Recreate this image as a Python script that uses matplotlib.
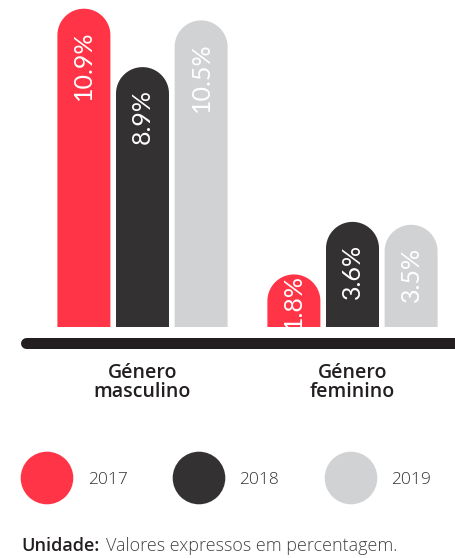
import numpy as np
import matplotlib
matplotlib.use("Agg")
import matplotlib.pyplot as plt
from matplotlib.patches import Polygon, Circle

# ---- data ----
categories = ["Género\nmasculino", "Género\nfeminino"]
years = ["2017", "2018", "2019"]
values = {
    "2017": [10.9, 1.8],
    "2018": [8.9, 3.6],
    "2019": [10.5, 3.5],
}
colors = {"2017": "#FF3446", "2018": "#333132", "2019": "#D1D2D4"}
footnote_bold = "Unidade:"
footnote_rest = "Valores expressos em percentagem."

W, H, DPI = 456, 558, 100
fig = plt.figure(figsize=(W / DPI, H / DPI), dpi=DPI)

# overlay in pixel units for legend and footnote
lax = fig.add_axes([0, 0, 1, 1])
lax.set_xlim(0, W)
lax.set_ylim(H, 0)
lax.axis("off")
lax.patch.set_alpha(0)

# bar axes: top of figure down to y=360 px, bar base at y=327 px
base_px, bottom_px = 327, 360
k = 29.2            # pixels per percentage point
px_x = 210.0        # pixels between group centres
ax = fig.add_axes([0, (H - bottom_px) / H, 1, bottom_px / H])
ax.set_ylim(-(bottom_px - base_px) / k, base_px / k)
ax.set_xlim(-142.5 / px_x, (W - 142.5) / px_x)
ax.patch.set_alpha(0)
for s in ax.spines.values():
    s.set_visible(False)
ax.set_yticks([])

bar_w = 53 / px_x
offsets = np.array([-1, 0, 1]) * 58.6 / px_x
rx = bar_w / 2
ry = 26.5 / k

renderer = fig.canvas.get_renderer()
x = np.arange(len(categories))
for i, yr in enumerate(years):
    for j, v in enumerate(values[yr]):
        xc = x[j] + offsets[i]
        th = np.linspace(0, np.pi, 60)
        cap = np.column_stack([xc + rx * np.cos(th), (v - ry) + ry * np.sin(th)])
        pts = np.vstack([[xc + rx, 0], cap, [xc - rx, 0]])
        ax.add_patch(Polygon(pts, closed=True, facecolor=colors[yr],
                             edgecolor="none", zorder=2))
        t = ax.text(xc, v, f"{v:.1f}%", rotation=90, ha="center", va="top",
                    color="white", fontsize=18, family=["Lato", "DejaVu Sans"],
                    fontweight="normal", zorder=3)
        L = t.get_window_extent(renderer).height
        h = v * k
        gap = min(22, max(0, (h - L) / 2))
        t.set_y(v - gap / k)

# thick base line with rounded ends
ax.plot([-116.3 / px_x, 2.0], [-16 / k, -16 / k], color="#231F20",
        lw=11 * 72 / DPI, solid_capstyle="round", clip_on=False, zorder=4)

ax.set_xticks(x)
ax.set_xticklabels(categories, fontsize=14, family=["Open Sans", "DejaVu Sans"],
                   fontweight="semibold", color="#231F20", linespacing=0.92,
                   multialignment="center")
ax.tick_params(axis="x", length=0, pad=2)

# legend
leg_x = [47, 199, 351]
lab_x = [88, 239, 391]
for i, yr in enumerate(years):
    lax.add_patch(Circle((leg_x[i], 478), 26.3, facecolor=colors[yr], edgecolor="none"))
    lax.text(lab_x[i], 480, yr, ha="left", va="center", fontsize=12.5,
             family=["Open Sans", "DejaVu Sans"], fontweight="light", color="#333132")

# footnote
t1 = lax.text(21.7, 551, footnote_bold, ha="left", va="baseline", fontsize=13,
              family=["Open Sans", "DejaVu Sans"], fontweight="semibold", color="#231F20")
lax.annotate(footnote_rest, xy=(1, 0), xycoords=t1, xytext=(4, 0),
             textcoords="offset points", ha="left", va="bottom", fontsize=13,
             family=["Open Sans", "DejaVu Sans"], fontweight="light", color="#444444")

fig.savefig("out.png", dpi=DPI)
